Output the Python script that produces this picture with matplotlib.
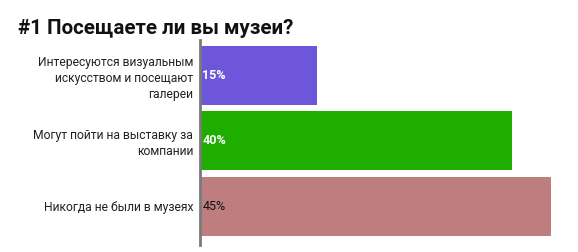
import matplotlib.pyplot as plt

# data
categories = ["Интересуются визуальным\nискусством и посещают\nгалереи",
              "Могут пойти на выставку за\nкомпании",
              "Никогда не были в музеях"]
values = [15, 40, 45]
bar_colors = ["#6e56db", "#1fad00", "#be7d7f"]
value_colors = ["white", "white", "#111111"]
value_weights = ["bold", "bold", "normal"]

plt.rcParams['font.family'] = ['Roboto', 'DejaVu Sans']

fig = plt.figure(figsize=(5.78, 2.52), dpi=100)
ax = fig.add_axes([200 / 578, 1 - 245 / 252, 370 / 578, 205 / 252])

y = range(len(values))
ax.barh(y, values, height=0.9, color=bar_colors)
ax.set_xlim(0, 370 / 7.8)
ax.set_ylim(2.59, -0.54)

for i, (v, c, w) in enumerate(zip(values, value_colors, value_weights)):
    ax.text(0.3, i, f"{v}%", color=c, fontweight=w, fontsize=9,
            va="center", ha="left")

ax.set_yticks(list(y))
ax.set_yticklabels(categories, fontsize=8.7, color="#222222")
for lbl in ax.get_yticklabels():
    lbl.set_multialignment("right")
    lbl.set_linespacing(1.3)
ax.tick_params(axis="y", length=0, pad=5)
ax.set_xticks([])

for s in ["top", "right", "bottom"]:
    ax.spines[s].set_visible(False)
ax.spines["left"].set_color("#7a7a7a")
ax.spines["left"].set_linewidth(2)

fig.text(18 / 578, 1 - 28 / 252, "#1 Посещаете ли вы музеи?",
         fontsize=14.8, fontweight="bold", color="#111111", va="center")

fig.savefig("out.png", dpi=100)
